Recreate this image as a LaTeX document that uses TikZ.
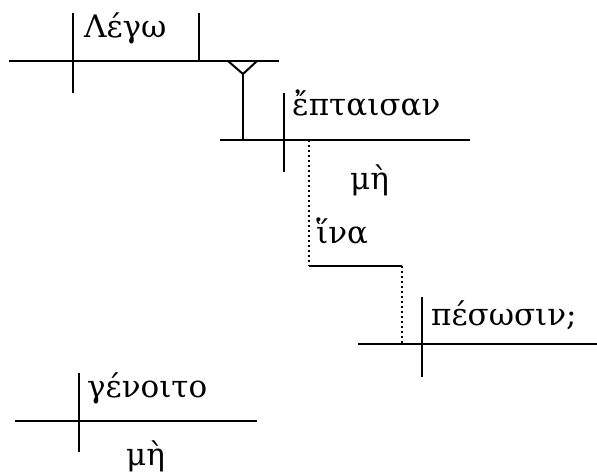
\documentclass[tikz,border=0pt]{standalone}
\usepackage{fontspec}
\setmainfont{DejaVu Serif}
\begin{document}
\begin{tikzpicture}[x=1pt,y=-1pt,
  rule/.style={line width=2pt},
  dotrule/.style={line width=2.6pt,dash pattern=on 2.4pt off 2.6pt},
  word/.style={anchor=base west,inner sep=0pt,font=\fontsize{31}{35}\selectfont}]
\useasboundingbox (0,0) rectangle (597,472);
% coordinates
\coordinate (a1) at (9,61);   \coordinate (a2) at (279,61);
\coordinate (d1t) at (73,13); \coordinate (d1b) at (73,93);
\coordinate (v1t) at (199,13); \coordinate (v1b) at (199,61);
\coordinate (y1) at (228,61); \coordinate (y2) at (257,61); \coordinate (yap) at (243,74);
\coordinate (b1) at (220,140); \coordinate (b2) at (470,140);
\coordinate (yb) at (243,140);
\coordinate (d2t) at (284,93); \coordinate (d2b) at (284,172);
\coordinate (p1) at (309,140); \coordinate (p2) at (309,266);
\coordinate (p3) at (402,266); \coordinate (p4) at (402,344);
\coordinate (c1) at (358,344); \coordinate (c2) at (597,344);
\coordinate (d3t) at (422,297); \coordinate (d3b) at (422,377);
\coordinate (e1) at (15,421); \coordinate (e2) at (257,421);
\coordinate (d4t) at (79,373); \coordinate (d4b) at (79,452);
% words
\node[word] (lego) at (84,37) {Λέγω};
\node[word] (eptaisan) at (292,115) {ἔπταισαν};
\node[word] (me1) at (350,189) {μὴ};
\node[word] (hina) at (316,243) {ἵνα};
\node[word] (pesosin) at (431,325) {πέσωσιν;};
\node[word] (genoito) at (87,397) {γένοιτο};
\node[word] (me2) at (126,465) {μὴ};
% lines
\draw[rule] (a1) -- (a2);
\draw[rule] (d1t) -- (d1b);
\draw[rule] (v1t) -- (v1b);
\draw[rule] (y1) -- (yap) -- (y2);
\draw[rule] (yap) -- (yb);
\draw[rule] (b1) -- (b2);
\draw[rule] (d2t) -- (d2b);
\draw[dotrule] (p1) -- (p2);
\draw[rule] (p2) -- (p3);
\draw[dotrule] (p3) -- (p4);
\draw[rule] (c1) -- (c2);
\draw[rule] (d3t) -- (d3b);
\draw[rule] (e1) -- (e2);
\draw[rule] (d4t) -- (d4b);
\end{tikzpicture}
\end{document}
